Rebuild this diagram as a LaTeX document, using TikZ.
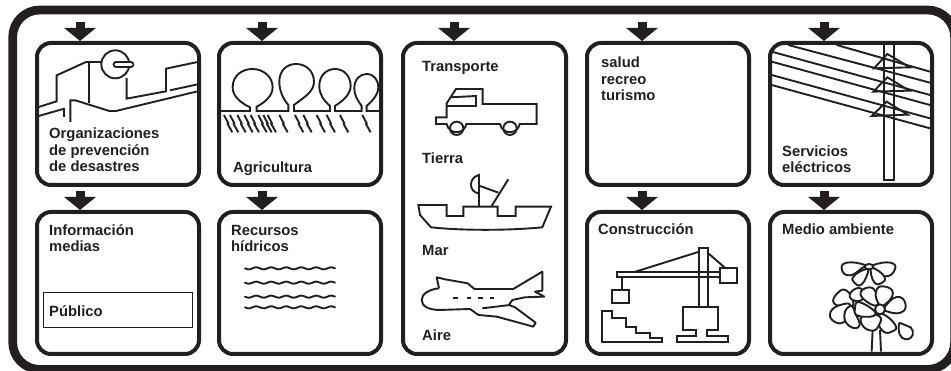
\documentclass[tikz,border=0pt]{standalone}
\usepackage{fontspec}
\setmainfont{Liberation Sans}
\usetikzlibrary{arrows.meta,calc}
\definecolor{ink}{HTML}{231F20}
\tikzset{
  framebox/.style={draw=ink,line width=8.7pt,rounded corners=27pt,minimum width=941.9pt,minimum height=359.4pt,inner sep=0pt},
  panel/.style={draw=ink,line width=4pt,rounded corners=14pt,minimum width=162pt,minimum height=142pt,inner sep=0pt},
  tallpanel/.style={panel,minimum height=311pt,minimum width=163pt},
  lbl/.style={anchor=base west,inner sep=0pt,text=ink,align=left,font=\fontsize{14.8}{16.6}\selectfont\bfseries},
  blockarrow/.style={draw=ink,line width=9pt,-{Triangle[width=31pt,length=13pt]}},
  art/.style={draw=ink,line width=1.9pt,line join=miter},
  petal/.style={draw=ink,fill=white,line width=1.9pt,tension=0.9},
  zoomA/.style={x=0.3333pt,y=-0.3333pt}
}
\begin{document}
\begin{tikzpicture}[x=1pt,y=-1pt]
\useasboundingbox (0,0) rectangle (951,371);

% --- illustrations ---
\begin{scope}[zoomA]
  % building
  \draw[art] (116,321)--(170,304)--(170,226)--(258,186)--(304,186);
  \draw[art] (266,186)--(266,310);
  \draw[art] (346,193) circle (42);
  \draw[draw=ink,line width=6.8pt,line cap=round] (348,193)--(393,193);
  \draw[draw=white,line width=3.2pt,line cap=round] (348,193)--(393,193);
  \draw[art] (380,234)--(380,296)--(498,274)--(498,206)--(593,186);
  \draw[art] (510,271)--(593,253);
  \draw[art] (116,348)--(193,326);
  \draw[art] (191,324)--(191,351);
  \draw[art] (211,366)--(211,301)--(226,301)--(328,333)--(348,333)--(593,274);
  % trees
  \draw[art] (663,333)--(750,333)--(750,322)
    .. controls (715,305) and (698,285) .. (698,262)
    .. controls (698,228) and (725,207) .. (757,207)
    .. controls (790,207) and (818,230) .. (818,262)
    .. controls (818,290) and (790,310) .. (770,320)
    --(770,333)--(865,333)--(865,315)
    .. controls (848,295) and (838,270) .. (838,245)
    .. controls (838,212) and (860,192) .. (888,192)
    .. controls (920,192) and (942,215) .. (942,245)
    .. controls (942,275) and (915,290) .. (882,315)
    --(882,333)--(990,333)--(990,318)
    .. controls (970,300) and (958,282) .. (958,258)
    .. controls (958,228) and (978,207) .. (1005,207)
    .. controls (1032,207) and (1052,228) .. (1052,258)
    .. controls (1052,285) and (1025,305) .. (1005,318)
    --(1005,333)--(1085,333)--(1085,318)
    .. controls (1072,300) and (1063,285) .. (1063,265)
    .. controls (1063,238) and (1080,222) .. (1100,222)
    .. controls (1122,222) and (1135,240) .. (1135,262)
    .. controls (1135,285) and (1115,305) .. (1100,318)
    --(1100,333)--(1138,333);
  \foreach \hx in {672,690,712,733,752,775,790,803,838,885,910,950,980,1020,1087}
    \draw[art] (\hx,345)--(\hx+13,370)--(\hx+11,372)--(\hx+25,397);
\end{scope}

\begin{scope}[shift={(0,185)},zoomA]
  % water
  \foreach \wy in {250,293,335,367}
    \draw[art,line cap=round] plot[domain=735:1005,samples=90,smooth] (\x,{\wy+3*sin((\x-735)*8)});
\end{scope}

\begin{scope}[shift={(395,20)},zoomA]
  % truck
  \draw[art] (155,250)--(155,292)--(123,292)--(123,312)--(155,312)
     arc[start angle=170,end angle=10,radius=30]
     --(315,312) arc[start angle=170,end angle=10,radius=30]
     --(425,312)--(425,252)--(263,252)--(263,207)--(183,207)--cycle;
  \draw[art] (165,232)--(243,228)--(243,258)--(155,258);
  \draw[art] (185,325) circle (20);
  \draw[art] (345,325) circle (20);
  % ship
  \draw[art] (70,555)--(155,555)--(155,588)--(205,588)--(205,560)--(308,560)--(308,588)--(362,588)--(362,560)--(468,560)--(442,622)
     .. controls (340,632) and (200,632) .. (108,622)--(75,585)--cycle;
  \draw[art] (252,560)--(252,465) .. controls (232,470) and (228,485) .. (228,495) .. controls (228,508) and (238,518) .. (250,520);
  \draw[art] (290,558)--(340,478);
  \draw[art] (255,498)--(310,518);
  % plane
  \draw[art,line join=round] (132,805)--(125,772)--(150,778)--(218,790)--(238,807)--(355,807)--(442,755)--(442,812)--(420,815)--(448,830)--(390,832)--(352,840)--(342,855)--(360,862)--(422,908)--(415,920)--(305,890)--(250,885)--(225,867)--(135,870)
     .. controls (100,870) and (80,858) .. (80,840)
     .. controls (80,820) and (105,808) .. (132,805);
  \draw[art] (262,865)--(345,855);
  \draw[art] (175,835)--(190,835) (215,835)--(229,835) (250,835)--(263,835) (285,835)--(298,835);
\end{scope}

\begin{scope}[shift={(580,0)},zoomA]
  % pylon
  \draw[art] (912,135)--(912,540)--(942,540)--(942,135);
  \draw[art] (770,135)--(1050,215);
  \draw[art] (625,135)--(1050,248);
  \draw[art] (575,155)--(1050,285);
  \draw[art] (575,185)--(1050,315);
  \draw[art] (575,225)--(1050,355);
  \draw[art] (575,255)--(1050,385);
  \draw[art] (922,162)--(990,202)--(882,205)--cycle;
  \draw[art] (922,232)--(988,272)--(880,275)--cycle;
  \draw[art] (920,305)--(983,344)--(875,348)--cycle;
\end{scope}

\begin{scope}[shift={(580,185)},zoomA]
  % crane
  \draw[art] (358,365)--(358,190)--(385,190)--(385,365);
  \draw[art] (420,262)--(110,262)--(110,275)--(420,275);
  \draw[art] (420,250) rectangle (470,295);
  \draw[art] (160,262)--(358,200);
  \draw[art] (385,205)--(437,250);
  \draw[art] (125,275)--(125,315);
  \draw[art] (97,315) rectangle (147,355);
  \draw[art] (310,365)--(415,365)--(415,435)--(380,435)--(380,452)--(445,452)--(445,472)--(290,472)--(290,452)--(347,452)--(347,435)--(310,435)--cycle;
  \draw[art] (65,378)--(97,378)--(97,400)--(137,400)--(137,425)--(168,425)--(168,445)--(210,445)--(210,458)--(245,458)--(245,472)--(65,472)--cycle;
\end{scope}

\begin{scope}[shift={(820,250)},zoomA]
  % flowers
  \draw[petal] (158,238)--(155,305);
  \draw[petal] (180,240)--(183,305);
  \draw[petal] plot[smooth cycle] coordinates {(135,45)(80,38)(66,60)(90,76)(125,55)};
  \draw[petal] plot[smooth cycle] coordinates {(160,45)(212,38)(224,60)(195,79)(160,55)};
  \draw[petal] plot[smooth cycle] coordinates {(135,58)(102,78)(102,97)(125,103)(145,62)};
  \draw[petal] plot[smooth cycle] coordinates {(152,60)(163,97)(185,99)(193,80)(162,55)};
  \draw[petal] (147,50) ellipse (13 and 8);
  \draw[petal] plot[smooth cycle] coordinates {(100,160)(80,122)(52,130)(42,160)(80,168)};
  \draw[petal] plot[smooth cycle] coordinates {(92,128)(122,115)(128,147)(98,150)};
  \draw[petal] plot[smooth cycle] coordinates {(68,163)(32,185)(43,215)(77,212)(92,170)};
  \draw[petal] plot[smooth cycle] coordinates {(92,168)(73,195)(88,228)(118,228)(106,190)};
  \draw[petal] plot[smooth cycle] coordinates {(167,167)(122,135)(148,112)(171,135)};
  \draw[petal] plot[smooth cycle] coordinates {(175,160)(168,125)(190,109)(219,130)(190,167)};
  \draw[petal] plot[smooth cycle] coordinates {(195,170)(230,141)(256,160)(242,188)(195,182)};
  \draw[petal] plot[smooth cycle] coordinates {(188,192)(226,225)(217,244)(188,243)(173,205)};
  \draw[petal] plot[smooth cycle] coordinates {(177,198)(133,195)(125,222)(155,242)(177,225)};
  \draw[petal] plot[smooth cycle] coordinates {(167,192)(120,157)(105,175)(116,198)};
  \draw[petal] (180,178) circle (15);
  \draw[petal,line join=round] (238,218)--(272,232) .. controls (285,245) and (280,268) .. (258,268) .. controls (240,268) and (232,245) .. (238,218);
\end{scope}

% --- frame and panels ---
\node[framebox] (frame) at (483.65,189.7) {};
\node[panel] (org)  at (118,114) {};
\node[panel] (agri) at (300,114) {};
\node[tallpanel] (trans) at (484.5,198.5) {};
\node[panel] (salud) at (668,114) {};
\node[panel] (elec) at (851,114) {};
\node[panel] (info) at (118,283) {};
\node[panel] (rec)  at (300,283) {};
\node[panel] (cons) at (668,283) {};
\node[panel] (medio) at (851,283) {};

\node[draw=ink,line width=1.5pt,minimum width=149pt,minimum height=35pt,inner sep=0pt] (pubbox) at (118,310) {};

% --- labels (the anchor of a multi-line label is its last baseline) ---
\node[lbl] (lorg) at (49,172) {Organizaciones\\de prevención\\de desastres};
\node[lbl] (lagri) at (233,173) {Agricultura};
\node[lbl] (linfo) at (49,252) {Información\\medias};
\node[lbl] (lpub) at (49,317) {Público};
\node[lbl] (lrec) at (231,252) {Recursos\\hídricos};
\node[lbl] (ltr) at (422,72) {Transporte};
\node[lbl] (ltie) at (422,164) {Tierra};
\node[lbl] (lmar) at (422,256) {Mar};
\node[lbl] (laire) at (422,341) {Aire};
\node[lbl] (lsal) at (601,101) {salud\\recreo\\turismo};
\node[lbl] (lel) at (782,173) {Servicios\\eléctricos};
\node[lbl] (lcons) at (598,235) {Construcción};
\node[lbl] (lmed) at (782,235) {Medio ambiente};

% --- arrows ---
\coordinate (torg) at ($(org.north west)+(45,-19)$);
\coordinate (tagri) at ($(agri.north west)+(45,-19)$);
\coordinate (ttrans) at ($(trans.north west)+(53,-19)$);
\coordinate (tsalud) at ($(salud.north west)+(57,-19)$);
\coordinate (telec) at ($(elec.north west)+(56,-19)$);
\draw[blockarrow] (torg) -- ($(org.north west)+(45,0)$);
\draw[blockarrow] (tagri) -- ($(agri.north west)+(45,0)$);
\draw[blockarrow] (ttrans) -- ($(trans.north west)+(53,0)$);
\draw[blockarrow] (tsalud) -- ($(salud.north west)+(57,0)$);
\draw[blockarrow] (telec) -- ($(elec.north west)+(56,0)$);
\draw[blockarrow] ($(org.south west)+(45,4)$) -- ($(info.north west)+(45,0)$);
\draw[blockarrow] ($(agri.south west)+(45,4)$) -- ($(rec.north west)+(45,0)$);
\draw[blockarrow] ($(salud.south west)+(57,4)$) -- ($(cons.north west)+(57,0)$);
\draw[blockarrow] ($(elec.south west)+(56,4)$) -- ($(medio.north west)+(56,0)$);
\end{tikzpicture}
\end{document}
